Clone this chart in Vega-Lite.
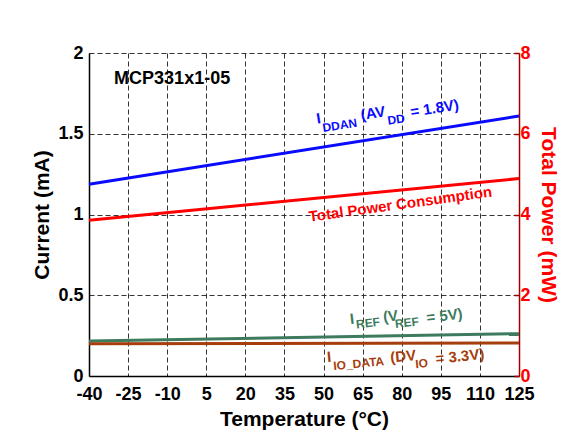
{
  "$schema": "https://vega.github.io/schema/vega-lite/v6.json",
  "width": 430,
  "height": 323,
  "autosize": {"type": "none"},
  "padding": {"left": 89, "top": 53, "right": 59, "bottom": 59},
  "background": "white",
  "config": {
    "view": {"stroke": null},
    "font": "Liberation Sans",
    "axis": {
      "labelFont": "Liberation Sans",
      "titleFont": "Liberation Sans",
      "labelFontWeight": "bold",
      "titleFontWeight": "bold",
      "labelFontSize": 18,
      "titleFontSize": 21,
      "labelColor": "#000000",
      "titleColor": "#000000",
      "domainColor": "#000000",
      "domainWidth": 1.5,
      "gridColor": "#333333",
      "gridDash": [5, 3],
      "gridOpacity": 1,
      "gridWidth": 1,
      "labelFlush": false,
      "labelBound": false,
      "labelOverlap": false
    }
  },
  "datasets": {
    "current": [
      {"series": "IDDAN", "temp": -40, "mA": 1.187},
      {"series": "IDDAN", "temp": 125, "mA": 1.61},
      {"series": "IREF", "temp": -40, "mA": 0.217},
      {"series": "IREF", "temp": 125, "mA": 0.262},
      {"series": "IIO_DATA", "temp": -40, "mA": 0.2},
      {"series": "IIO_DATA", "temp": 125, "mA": 0.205}
    ],
    "power": [
      {"series": "Total Power", "temp": -40, "mW": 3.86},
      {"series": "Total Power", "temp": 125, "mW": 4.89}
    ],
    "labels": [
      {"series": "Device", "kind": "title", "temp": -8.1, "mA": 1.841, "text": "MCP331x1-05"},
      {"series": "IDDAN", "kind": "main", "temp": 48.06, "mA": 1.594, "text": "I"},
      {"series": "IDDAN", "kind": "sub", "temp": 56.23, "mA": 1.552, "text": "DDAN"},
      {"series": "IDDAN", "kind": "main", "temp": 68.97, "mA": 1.627, "text": "(AV"},
      {"series": "IDDAN", "kind": "sub", "temp": 77.9, "mA": 1.588, "text": "DD"},
      {"series": "IDDAN", "kind": "main", "temp": 92.6, "mA": 1.658, "text": "= 1.8V)"},
      {"series": "Total Power", "kind": "main", "temp": 79.5, "mA": 1.064, "text": "Total Power Consumption"},
      {"series": "IREF", "kind": "main", "temp": 60.9, "mA": 0.355, "text": "I"},
      {"series": "IREF", "kind": "sub", "temp": 67.05, "mA": 0.328, "text": "REF"},
      {"series": "IREF", "kind": "main", "temp": 75.7, "mA": 0.37, "text": "(V"},
      {"series": "IREF", "kind": "sub", "temp": 82.0, "mA": 0.33, "text": "REF"},
      {"series": "IREF", "kind": "main", "temp": 96.4, "mA": 0.374, "text": "= 5V)"},
      {"series": "IIO_DATA", "kind": "main", "temp": 52.1, "mA": 0.118, "text": "I"},
      {"series": "IIO_DATA", "kind": "sub", "temp": 63.5, "mA": 0.077, "text": "IO_DATA"},
      {"series": "IIO_DATA", "kind": "main", "temp": 80.5, "mA": 0.122, "text": "(DV"},
      {"series": "IIO_DATA", "kind": "sub", "temp": 87.6, "mA": 0.077, "text": "IO"},
      {"series": "IIO_DATA", "kind": "main", "temp": 102.3, "mA": 0.122, "text": "= 3.3V)"}
    ]
  },
  "encoding": {
    "x": {
      "field": "temp", "type": "quantitative",
      "scale": {"domain": [-40, 125], "nice": false, "zero": false},
      "axis": {
        "title": "Temperature (°C)",
        "values": [-40, -25, -10, 5, 20, 35, 50, 65, 80, 95, 110, 125],
        "labelExpr": "toString(datum.value)",
        "grid": true, "ticks": false,
        "labelOverlap": false,
        "labelPadding": 9, "titlePadding": 5
      }
    }
  },
  "layer": [
    {
      "layer": [
        {
          "data": {"name": "current"},
          "mark": {"type": "line", "strokeWidth": 3},
          "encoding": {
            "y": {
              "field": "mA", "type": "quantitative",
              "scale": {"domain": [0, 2], "nice": false, "zero": true},
              "axis": {
                "title": "Current (mA)",
                "values": [0, 0.5, 1, 1.5, 2],
                "labelExpr": "toString(datum.value)",
                "grid": true, "ticks": false,
                "labelOverlap": false,
                "labelPadding": 6, "titlePadding": 5
              }
            },
            "color": {
              "field": "series", "type": "nominal",
              "scale": {
                "domain": ["IDDAN", "Total Power", "IREF", "IIO_DATA", "Device"],
                "range": ["#0a0aff", "#ff0000", "#3d7a5e", "#a63d0c", "#000000"]
              },
              "legend": null
            }
          }
        },
        {
          "data": {"name": "labels"},
          "transform": [{"filter": "datum.kind == 'title'"}],
          "mark": {"type": "text", "fontWeight": "bold", "fontSize": 18, "align": "center", "baseline": "middle", "font": "Liberation Sans"},
          "encoding": {
            "y": {"field": "mA", "type": "quantitative"},
            "text": {"field": "text"},
            "color": {"field": "series", "type": "nominal"}
          }
        },
        {
          "data": {"name": "labels"},
          "transform": [{"filter": "datum.kind == 'main'"}],
          "mark": {"type": "text", "fontWeight": "bold", "fontSize": 15, "align": "center", "baseline": "middle", "font": "Liberation Sans"},
          "encoding": {
            "y": {"field": "mA", "type": "quantitative"},
            "text": {"field": "text"},
            "color": {"field": "series", "type": "nominal"},
            "angle": {
              "field": "series", "type": "nominal",
              "scale": {"domain": ["IDDAN", "Total Power", "IREF", "IIO_DATA", "Device"], "range": [-9, -4.5, -1, 0, 0]},
              "legend": null
            }
          }
        },
        {
          "data": {"name": "labels"},
          "transform": [{"filter": "datum.kind == 'sub'"}],
          "mark": {"type": "text", "fontWeight": "bold", "fontSize": 12, "align": "center", "baseline": "middle", "font": "Liberation Sans"},
          "encoding": {
            "y": {"field": "mA", "type": "quantitative"},
            "text": {"field": "text"},
            "color": {"field": "series", "type": "nominal"},
            "angle": {
              "field": "series", "type": "nominal",
              "scale": {"domain": ["IDDAN", "Total Power", "IREF", "IIO_DATA", "Device"], "range": [-9, -4.5, -1, 0, 0]},
              "legend": null
            }
          }
        }
      ]
    },
    {
      "data": {"name": "power"},
      "mark": {"type": "line", "strokeWidth": 3, "color": "#ff0000"},
      "encoding": {
        "y": {
          "field": "mW", "type": "quantitative",
          "scale": {"domain": [0, 8], "nice": false, "zero": true},
          "axis": {
            "orient": "right",
            "title": "Total Power (mW)",
            "values": [0, 2, 4, 6, 8],
            "grid": false,
            "ticks": true, "tickSize": -5, "tickColor": "#a00000", "tickWidth": 1.5,
            "domainColor": "#a00000",
            "labelColor": "#ff0000", "titleColor": "#ff0000",
            "labelPadding": 6, "titlePadding": 7
          }
        }
      }
    }
  ],
  "resolve": {"scale": {"y": "independent"}}
}
